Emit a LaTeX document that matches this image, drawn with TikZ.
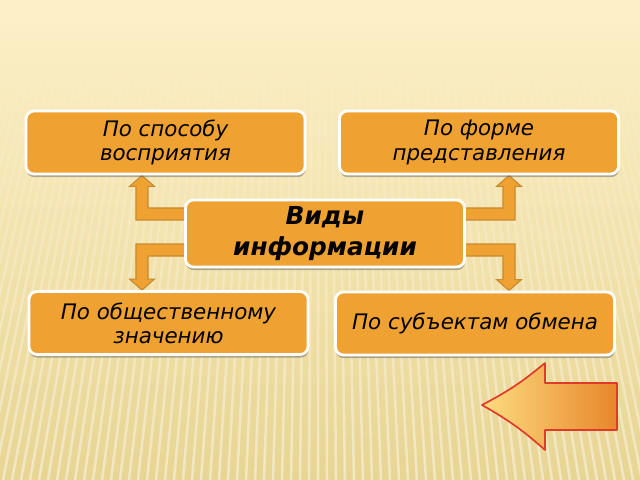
\documentclass[tikz,border=0pt]{standalone}
\usepackage{fontspec}
\setmainfont{DejaVu Sans}
\usetikzlibrary{calc,fadings,shadows}
\definecolor{bgtop}{HTML}{FDF0C8}
\definecolor{bgbot}{HTML}{E8D593}
\definecolor{boxfill}{HTML}{EFA232}
\definecolor{arrline}{HTML}{C98A2E}
\definecolor{btnL}{HTML}{FDDC80}
\definecolor{btnR}{HTML}{E8862A}
\definecolor{btnline}{HTML}{E03A2A}
\pgfdeclarelayer{bglayer}
\pgfdeclarelayer{arrlayer}
\pgfsetlayers{bglayer,arrlayer,main}
\tikzset{
  infobox/.style={draw=white, line width=2pt, fill=boxfill, rounded corners=0.2cm,
    minimum width=6.975cm, minimum height=1.575cm, inner sep=0pt, align=center,
    text=black, font=\itshape\fontsize{15.2}{17.2}\selectfont,
    drop shadow={shadow xshift=0.01cm, shadow yshift=-0.08cm, fill=black!65, opacity=0.45}},
  elbowconn/.style={fill=boxfill, draw=arrline, line width=0.8pt, line join=miter},
  stripe/.style={white, opacity=0.45, line width=1.8pt, path fading=north},
}
\newcommand\elbowarrow[4]{%
  \draw[elbowconn] let \p1=(#1), \p2=(#2) in
   (\x1,{\y1+(#4)*0.15cm}) -- ({\x2+(#3)*0.15cm},{\y1+(#4)*0.15cm})
   -- ({\x2+(#3)*0.15cm},{\y2-(#4)*0.275cm}) -- ({\x2+(#3)*0.31cm},{\y2-(#4)*0.275cm})
   -- (\x2,\y2) -- ({\x2-(#3)*0.31cm},{\y2-(#4)*0.275cm})
   -- ({\x2-(#3)*0.15cm},{\y2-(#4)*0.275cm}) -- ({\x2-(#3)*0.15cm},{\y1-(#4)*0.15cm})
   -- (\x1,{\y1-(#4)*0.15cm}) -- cycle;}
\begin{document}
\begin{tikzpicture}[x=0.025cm, y=-0.025cm]
\useasboundingbox (0,0) rectangle (640,480);
\begin{pgfonlayer}{bglayer}
  \shade[top color=bgtop, bottom color=bgbot] (0,0) rectangle (640,480);
  \fill[bgtop] (0,0) rectangle (640,30);
  \begin{scope}
    \clip (0,0) rectangle (640,480);
    \foreach \xb in {-240,-231,...,880} {
      \draw[stripe] (\xb,480) -- ({320+(\xb-320)*0.72},30);
    }
  \end{scope}
\end{pgfonlayer}

\node[infobox] (tl) at (165.5,142.5) {По способу\\восприятия};
\node[infobox] (tr) at (479,142.5) {По форме\\представления};
\node[infobox, minimum height=1.675cm, font=\bfseries\itshape\fontsize{17.6}{22}\selectfont] (c) at (325,233.5) {Виды\\информации};
\node[infobox] (bl) at (168.5,323) {По общественному\\значению};
\node[infobox] (br) at (475,323.5) {По субъектам обмена};

\coordinate (s1) at ($(c.west)+(4,-19.5)$);
\coordinate (s2) at ($(c.west)+(4,16.5)$);
\coordinate (s3) at ($(c.east)+(-4,-19.5)$);
\coordinate (s4) at ($(c.east)+(-4,16.5)$);
\coordinate (t1) at ($(tl.south west)!(142,0)!(tl.south east)$);
\coordinate (t2) at ($(tr.south west)!(509,0)!(tr.south east)$);
\coordinate (t3) at ($(bl.north west)!(142,0)!(bl.north east)$);
\coordinate (t4) at ($(br.north west)!(509,0)!(br.north east)$);
\begin{pgfonlayer}{arrlayer}
  \elbowarrow{s1}{t1}{1}{1}
  \elbowarrow{s3}{t2}{-1}{1}
  \elbowarrow{s2}{t3}{1}{-1}
  \elbowarrow{s4}{t4}{-1}{-1}
\end{pgfonlayer}

% return button arrow
\draw[left color=btnL, right color=btnR, draw=btnline, line width=1.2pt, line join=round]
  (617,383) -- (545,383) -- (545,363) to[bend left=6] (482,405)
  to[bend left=6] (545,450) -- (545,430) -- (617,430) -- cycle;
\end{tikzpicture}
\end{document}
